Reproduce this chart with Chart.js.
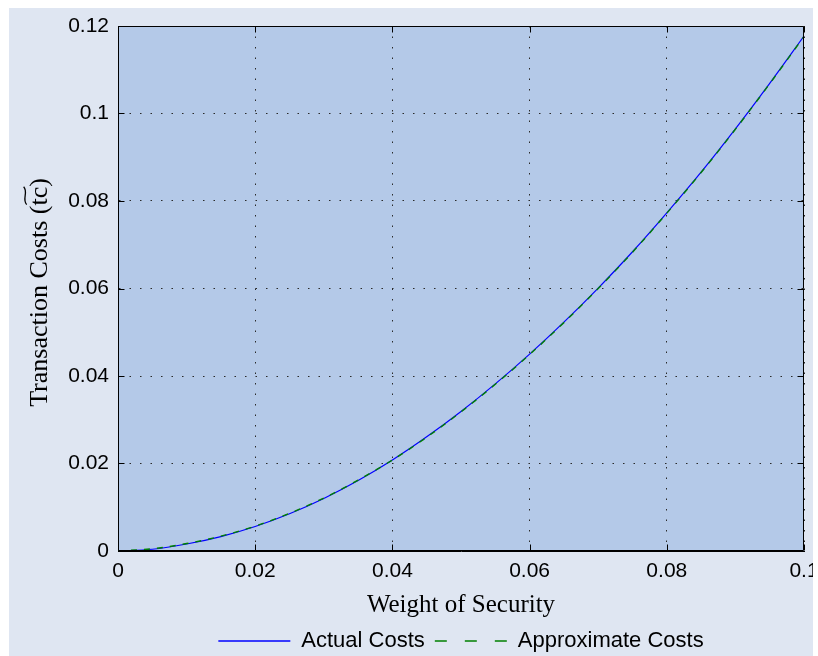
<!DOCTYPE html>
<html>
<head>
<meta charset="utf-8">
<script src="https://cdn.jsdelivr.net/npm/chart.js@4/dist/chart.umd.min.js"></script>
<style>
  html, body { margin: 0; padding: 0; background: #ffffff; overflow: hidden; }
  #frame { position: absolute; left: 9px; top: 8px; width: 804px; height: 654px; background: #dfe6f2; }
  canvas { display: block; }
</style>
</head>
<body>
<div id="frame"><canvas id="costChart"></canvas></div>
<script>
// Security weight (x) and the transaction costs it incurs (y)
const weights = [0, 0.005, 0.01, 0.015, 0.02, 0.025, 0.03, 0.035, 0.04, 0.045, 0.05,
                 0.055, 0.06, 0.065, 0.07, 0.075, 0.08, 0.085, 0.09, 0.095, 0.1];
const actualCosts = [0, 0.0004, 0.0016, 0.0033, 0.0056, 0.0085, 0.0120, 0.0161, 0.0208, 0.0261, 0.0319,
                     0.0382, 0.0450, 0.0523, 0.0601, 0.0684, 0.0773, 0.0866, 0.0965, 0.1069, 0.1177];
const approxCosts = [0, 0.0005, 0.0017, 0.0034, 0.0057, 0.0086, 0.0121, 0.0162, 0.0208, 0.0260, 0.0318,
                     0.0381, 0.0449, 0.0522, 0.0600, 0.0683, 0.0772, 0.0865, 0.0964, 0.1068, 0.1176];

const xTickValues = [0, 0.02, 0.04, 0.06, 0.08, 0.1];
const xTickLabels = ['0', '0.02', '0.04', '0.06', '0.08', '0.1'];
const yTickValues = [0, 0.02, 0.04, 0.06, 0.08, 0.1, 0.12];
const yTickLabels = ['0', '0.02', '0.04', '0.06', '0.08', '0.1', '0.12'];

const seriesNames = ['Actual Costs', 'Approximate Costs'];
const xTitle = 'Weight of Security';
const yTitle = 'Transaction Costs (';
const yTitleSymbol = 'tc';

const PLOT_BG = '#b4c9e8';
const SANS = '"Liberation Sans", Arial, Helvetica, sans-serif';
const SERIF = '"Liberation Serif", "Times New Roman", serif';

const toPoints = (xs, ys) => xs.map((x, i) => ({ x: x, y: ys[i] }));

// Shaded plotting area
const plotBackground = {
  id: 'plotBackground',
  beforeDraw(chart) {
    const { ctx, chartArea: a } = chart;
    ctx.save();
    ctx.fillStyle = PLOT_BG;
    ctx.fillRect(a.left, a.top, a.right - a.left, a.bottom - a.top);
    ctx.restore();
  }
};

// Boxed axes with inward tick marks, plus the rotated y-axis title
const axesBox = {
  id: 'axesBox',
  afterDraw(chart) {
    const { ctx, chartArea: a, scales } = chart;
    const L = Math.round(a.left) + 0.5, R = Math.round(a.right) - 0.5;
    const T = Math.round(a.top) + 0.5, B = Math.round(a.bottom) - 0.5;
    const len = 6;
    ctx.save();
    ctx.strokeStyle = '#000';
    ctx.lineWidth = 1;
    ctx.beginPath();
    ctx.rect(L, T, R - L, B - T);
    scales.y.ticks.forEach(t => {
      const py = Math.round(scales.y.getPixelForValue(t.value)) + 0.5;
      ctx.moveTo(L, py); ctx.lineTo(L + len, py);
      ctx.moveTo(R, py); ctx.lineTo(R - len, py);
    });
    scales.x.ticks.forEach(t => {
      const px = Math.round(scales.x.getPixelForValue(t.value)) + 0.5;
      ctx.moveTo(px, B); ctx.lineTo(px, B - len);
      ctx.moveTo(px, T); ctx.lineTo(px, T + len);
    });
    ctx.stroke();

    // y-axis title, rotated, with a tilde spanning "tc"
    const fs = 26;
    ctx.font = fs + 'px ' + SERIF;
    ctx.fillStyle = '#000';
    ctx.textBaseline = 'alphabetic';
    ctx.textAlign = 'left';
    const full = yTitle + yTitleSymbol + ')';
    const W = ctx.measureText(full).width;
    const wPre = ctx.measureText(yTitle).width;
    const wSym = ctx.measureText(yTitleSymbol).width;
    ctx.translate(a.left - 71, (a.top + a.bottom) / 2 + 4);
    ctx.rotate(-Math.PI / 2);
    ctx.fillText(full, -W / 2, 0);
    const x0 = -W / 2 + wPre + 1, x1 = x0 + wSym - 1, ty = -fs * 0.84;
    ctx.lineWidth = 1.3;
    ctx.beginPath();
    ctx.moveTo(x0, ty + 1.5);
    ctx.bezierCurveTo(x0 + (x1 - x0) * 0.3, ty - 3.5, x0 + (x1 - x0) * 0.7, ty + 3.5, x1, ty - 1.5);
    ctx.stroke();
    ctx.restore();
  }
};

const gridDash = [1.5, 9];

new Chart(document.getElementById('costChart'), {
  type: 'line',
  data: {
    datasets: [
      {
        label: seriesNames[0],
        data: toPoints(weights, actualCosts),
        borderColor: '#0000ff',
        borderWidth: 1.2,
        pointRadius: 0,
        cubicInterpolationMode: 'monotone',
        order: 2
      },
      {
        label: seriesNames[1],
        data: toPoints(weights, approxCosts),
        borderColor: '#008000',
        borderWidth: 1.4,
        borderDash: [6, 7],
        pointRadius: 0,
        cubicInterpolationMode: 'monotone',
        order: 1
      }
    ]
  },
  options: {
    responsive: true,
    maintainAspectRatio: false,
    animation: false,
    events: [],
    layout: { padding: { top: 18, right: 9, left: 0, bottom: 0 } },
    scales: {
      x: {
        type: 'linear',
        min: 0,
        max: 0.1,
        afterBuildTicks: s => { s.ticks = xTickValues.map(v => ({ value: v })); },
        afterFit: s => { s.height = 69; s.paddingLeft = 0; s.paddingRight = 0; },
        ticks: {
          autoSkip: false,
          maxRotation: 0,
          padding: 8,
          color: '#000',
          font: { family: SANS, size: 21 },
          callback: (v, i) => xTickLabels[i]
        },
        grid: { color: '#2a2a2a', lineWidth: 1, drawTicks: false },
        border: { display: true, color: '#000', width: 1, dash: gridDash },
        title: {
          display: true,
          text: xTitle,
          color: '#000',
          font: { family: SERIF, size: 25 },
          padding: { top: 0, bottom: 0 }
        }
      },
      y: {
        type: 'linear',
        min: 0,
        max: 0.12,
        afterBuildTicks: s => { s.ticks = yTickValues.map(v => ({ value: v })); },
        afterFit: s => { s.width = 109; s.paddingTop = 0; s.paddingBottom = 0; },
        ticks: {
          autoSkip: false,
          padding: 9,
          color: '#000',
          font: { family: SANS, size: 21 },
          callback: (v, i) => yTickLabels[i]
        },
        grid: { color: '#2a2a2a', lineWidth: 1, drawTicks: false },
        border: { display: true, color: '#000', width: 1, dash: gridDash }
      }
    },
    plugins: {
      tooltip: { enabled: false },
      legend: {
        position: 'bottom',
        fullSize: false,
        labels: {
          color: '#000',
          font: { family: SANS, size: 22 },
          usePointStyle: true,
          pointStyle: 'line',
          pointStyleWidth: 72,
          padding: 10,
          sort: (a, b) => a.datasetIndex - b.datasetIndex,
          generateLabels: chart => {
            const items = Chart.defaults.plugins.legend.labels.generateLabels(chart);
            items.forEach(it => {
              it.lineWidth = 1.3;
              if (it.datasetIndex === 1) it.lineDash = [12, 18];
            });
            return items;
          }
        }
      }
    }
  },
  plugins: [plotBackground, axesBox]
});
</script>
</body>
</html>
